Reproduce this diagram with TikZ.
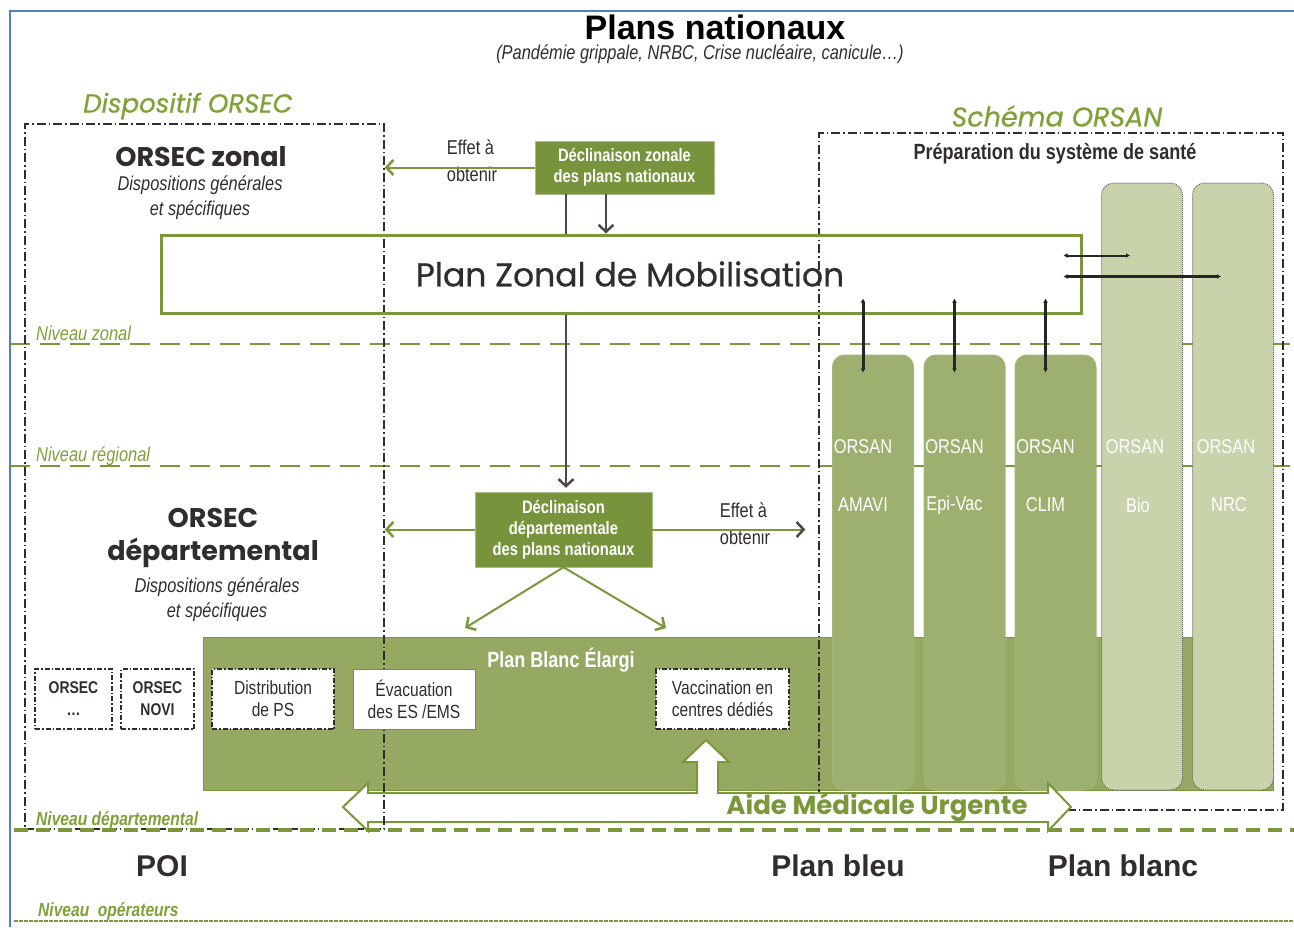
\documentclass[tikz,border=0pt]{standalone}
\usepackage{fontspec}
\setmainfont{Poppins}
\newfontfamily\medfont[FakeBold=0.6]{Poppins}
\newfontfamily\narrowfont[FakeStretch=0.82]{Liberation Sans}
\newfontfamily\plainfont{Liberation Sans}
\usetikzlibrary{arrows.meta,calc}
\definecolor{declgreen}{RGB}{119,147,60}
\definecolor{bandgreen}{RGB}{150,169,98}
\definecolor{colgreen}{RGB}{158,176,112}
\definecolor{palegreen}{RGB}{200,211,171}
\definecolor{linegreen}{RGB}{122,152,58}
\definecolor{titlegreen}{RGB}{128,160,56}
\definecolor{inkgray}{RGB}{50,45,45}
\definecolor{arrowgray}{RGB}{80,70,70}
\definecolor{frameblue}{RGB}{79,129,189}
\newcommand{\pxs}[2]{\fontsize{#1}{#2}\selectfont}
\tikzset{
  decl/.style={fill=declgreen, draw=declgreen!60!white, text=white, align=center,
    font=\narrowfont\bfseries\pxs{18}{21}, inner sep=0pt},
  dispo/.style={draw=inkgray, line width=1.4pt, dash pattern=on 9pt off 3pt on 1.5pt off 3pt, inner sep=0pt},
  smallbox/.style={fill=white, draw=inkgray, line width=1.3pt, dash pattern=on 5pt off 2pt on 1.5pt off 2pt,
    align=center, inner sep=0pt, minimum height=60pt, text=inkgray, font=\narrowfont\pxs{19}{22}},
  orsancol/.style={rounded corners=12pt, inner sep=0pt, minimum width=81pt},
  orsantxt/.style={text=white, font=\narrowfont\pxs{20}{22}, inner sep=0pt},
  garrow/.style={linegreen, line width=2pt, -{Straight Barb[length=7pt,width=15pt,line width=2.5pt]}},
  niveau/.style={linegreen, line width=2pt, dash pattern=on 20pt off 10pt},
  nivtxt/.style={anchor=base west, text=titlegreen, font=\narrowfont\itshape\pxs{20}{20}, inner sep=0pt},
  subtxt/.style={text=inkgray, align=center, font=\narrowfont\itshape\pxs{20}{25}},
  effet/.style={text=inkgray, align=left, font=\narrowfont\pxs{20}{27}},
  bigtxt/.style={text=inkgray, font=\plainfont\bfseries\pxs{30}{30}},
  link/.style={line width=3pt, black!85, {Latex[length=4pt,width=5pt]}-{Latex[length=4pt,width=5pt]}}
}

\begin{document}
\begin{tikzpicture}[x=1pt,y=-1pt]
  \useasboundingbox (0,0) rectangle (1294,927);
  %\draw[help lines] (0,0) grid[step=100] (1294,927);
  \draw[frameblue, line width=1.5pt] (1294,11) -- (10,11) -- (10,927);

  \node[text=black, font=\plainfont\bfseries\pxs{34}{34}] (plans) at (715,27) {Plans nationaux};
  \node[text=inkgray, font=\narrowfont\itshape\pxs{20}{20}] (plansub) at (700,54)
    {(Pandémie grippale, NRBC, Crise nucléaire, canicule…)};
  \node[text=titlegreen, font=\medfont\itshape\pxs{26}{26}] (dispotitle) at (188,106) {Dispositif ORSEC};
  \node[text=titlegreen, font=\medfont\itshape\pxs{27}{27}] (orsantitle) at (1057,116) {Schéma ORSAN};

  % niveaux
  \draw[niveau] (10,344) -- (1294,344);
  \draw[niveau] (10,466) -- (1294,466);
  \node[nivtxt] (nz) at (36,340) {Niveau zonal};
  \node[nivtxt] (nr) at (36,461) {Niveau régional};

  % plan blanc elargi + colonnes ORSAN
  \node[fill=bandgreen, draw=linegreen, line width=1pt, minimum width=1070pt, minimum height=153pt,
    inner sep=0pt] (pbe) at (738,713.5) {};
  \node[text=white, font=\narrowfont\bfseries\pxs{22}{22}] (pbetxt) at (561,660) {Plan Blanc Élargi};
  \foreach \nm/\x/\lab in {amavi/873/AMAVI, epivac/964.5/Epi-Vac, clim/1055.5/CLIM}{
    \node[orsancol, fill=colgreen, draw=linegreen!70, line width=1pt, minimum height=435pt] (\nm) at (\x,572.5) {};
    \node[orsantxt] (\nm-a) at (\x-10,447) {ORSAN};
    \node[orsantxt] (\nm-b) at (\x-10,505) {\lab};
  }
  \foreach \nm/\x/\lab in {bio/1142/Bio, nrc/1233/NRC}{
    \node[orsancol, fill=palegreen, draw=gray!80!black, densely dotted, line width=1pt, minimum height=607pt] (\nm) at (\x,486.5) {};
    \node[orsantxt] (\nm-a) at (\x-7,447) {ORSAN};
    \node[orsantxt] (\nm-b) at (\x-4,505) {\lab};
  }
  \node[dispo, minimum width=464pt, minimum height=677pt] (orsan) at (1051,471.5) {};
  \node[text=inkgray, font=\narrowfont\bfseries\pxs{22}{22}] (prep) at (1055,154) {Préparation du système de santé};

  % aide medicale urgente
  \draw[fill=white, draw=linegreen, line width=2pt] (343,807) -- (368,783) -- (368,793) -- (697,793)
    -- (697,762) -- (683,762) -- (706,740) -- (729,762) -- (718,762) -- (718,793) -- (1048,793)
    -- (1048,783) -- (1071,807) -- (1048,831) -- (1048,822) -- (368,822) -- (368,831) -- cycle;
  \node[text=linegreen, font=\bfseries\pxs{26}{26}] (amu) at (877,807) {Aide Médicale Urgente};

  \node[dispo, minimum width=359pt, minimum height=705pt] (orsec) at (204.5,476.5) {};
  \node[text=inkgray, font=\bfseries\pxs{27}{27}] (oz) at (201,157) {ORSEC zonal};
  \node[subtxt] (ozsub) at (200,198) {Dispositions générales\\et spécifiques};
  \node[text=inkgray, font=\bfseries\pxs{27}{33}, align=center] (od) at (213,538) {ORSEC\\départemental};
  \node[subtxt] (odsub) at (217,600) {Dispositions générales\\et spécifiques};

  \node[smallbox, minimum width=77pt, font=\narrowfont\bfseries\pxs{17}{22}] (orsecx) at (73.5,699) {ORSEC\\…};
  \node[smallbox, minimum width=73pt, font=\narrowfont\bfseries\pxs{17}{22}] (novi) at (157.5,699) {ORSEC\\NOVI};
  \node[smallbox, minimum width=122pt] (distrib) at (273,699) {Distribution\\de PS};
  \node[smallbox, solid, draw=gray, line width=1pt, minimum width=122pt] (evac) at (414,699.5) {Évacuation\\des ES /EMS};
  \node[smallbox, minimum width=133pt] (vacc) at (722.5,699) {Vaccination en\\centres dédiés};

  % plan zonal et declinaisons
  \node[draw=linegreen, line width=3pt, minimum width=920pt, minimum height=78pt, inner sep=0pt,
    text=inkgray, font=\medfont\pxs{33}{33}] (pzm) at (621,274) {\hspace*{18pt}Plan Zonal de Mobilisation};
  \node[decl, minimum width=179pt, minimum height=53pt] (zdecl) at (624.5,167.5) {Déclinaison zonale\\des plans nationaux};
  \node[decl, minimum width=177pt, minimum height=75pt] (ddecl) at (563.5,529.5) {Déclinaison\\départementale\\des plans nationaux};
  \node[effet] (effz) at (472,161) {Effet à\\obtenir};
  \node[effet] (effd) at (745,524) {Effet à\\obtenir};

  \coordinate (zdown) at ([xshift=-58.5pt]zdecl.south);
  \coordinate (pbeL) at (465,628);
  \coordinate (pbeR) at (666,628);
  \draw[garrow] (zdecl.west) -- (zdecl.west -| orsec.east);
  \draw[arrowgray, line width=1.5pt] (zdown) -- (zdown |- pzm.north);
  \draw[arrowgray, line width=1.5pt, -{Straight Barb[length=7pt,width=15pt,line width=2.5pt]}]
    ([xshift=-18.5pt]zdecl.south) -- ([xshift=-18.5pt]zdecl.south |- pzm.north);
  \draw[arrowgray, line width=1.5pt, -{Straight Barb[length=7pt,width=15pt,line width=2.5pt]}]
    (pzm.south -| zdown) -- ([yshift=4pt]ddecl.north -| zdown);
  \draw[garrow] (ddecl.west) -- (ddecl.west -| orsec.east);
  \draw[linegreen, line width=2pt, -{Straight Barb[length=7pt,width=15pt,line width=2.5pt,color=arrowgray]}]
    (ddecl.east) -- ([xshift=-13pt]ddecl.east -| orsan.west);
  \draw[garrow] (ddecl.south) -- (pbeL);
  \draw[garrow] (ddecl.south) -- (pbeR);

  \foreach \nm in {amavi,epivac,clim}
    \draw[link] ($(pzm.south -| \nm.north)+(-10,-16)$) -- ($(\nm.north)+(-10,18)$);
  \draw[link, line width=2pt] ($(pzm.north east)+(-19,22)$) -- ($(pzm.north east -| bio.center)+(-12,22)$);
  \draw[link] ($(pzm.north east)+(-19,43)$) -- ($(pzm.north east -| nrc.center)+(-12,43)$);

  % niveau departemental / operateurs
  \draw[linegreen, line width=4pt, dash pattern=on 14pt off 8pt] (14,830) -- (1294,830);
  \draw[linegreen, line width=1.5pt, dash pattern=on 4pt off 1pt] (14,921) -- (1294,921);
  \node[nivtxt, font=\narrowfont\bfseries\itshape\pxs{19}{19}] (nd) at (36,825) {Niveau départemental};
  \node[nivtxt, font=\narrowfont\bfseries\itshape\pxs{19}{19}] (no) at (38,916) {Niveau\ \ opérateurs};

  \node[bigtxt] (poi) at (162,866) {POI};
  \node[bigtxt] (pbleu) at (838,866) {Plan bleu};
  \node[bigtxt] (pblanc) at (1123,866) {Plan blanc};
\end{tikzpicture}
\end{document}
